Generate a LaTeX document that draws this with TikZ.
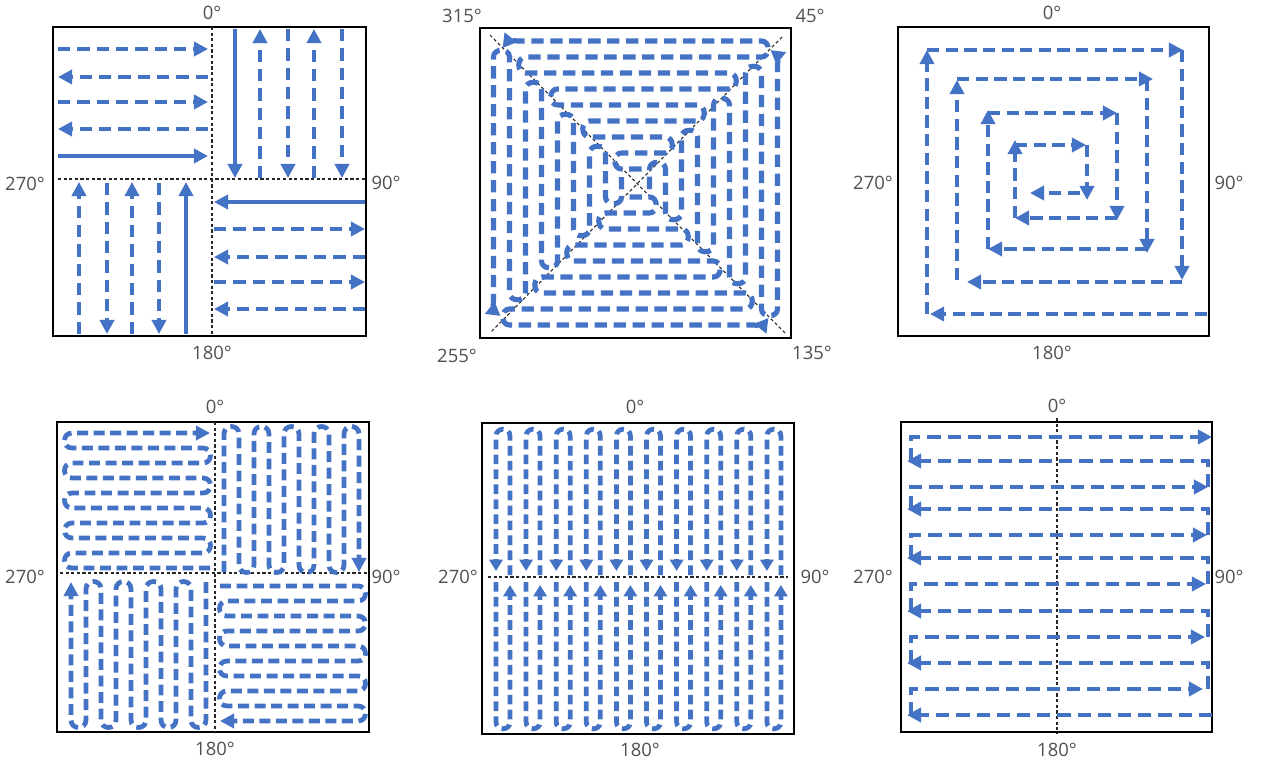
\documentclass[tikz,border=0pt]{standalone}
\usepackage{fontspec}
\setmainfont{Open Sans}
\usetikzlibrary{arrows.meta}
\definecolor{myblue}{RGB}{68,114,196}
\definecolor{labgray}{RGB}{80,80,80}
\begin{document}
\begin{tikzpicture}[x=0.02cm,y=-0.02cm,
  framebox/.style={draw=black, line width=1.2pt},
  guide/.style={draw=black!85, line width=0.6pt, dash pattern=on 1.8pt off 1.4pt},
  bl/.style={draw=myblue, line width=2.7pt, dash pattern=on 7pt off 4pt},
  sol/.style={draw=myblue, line width=2.7pt},
  tip/.style={-{Triangle[length=8pt,width=8pt]}},
  smalltip/.style={-{Triangle[length=6.5pt,width=7.5pt]}},
  lab/.style={text=labgray, font=\fontsize{10.5}{12}\selectfont, inner sep=0pt}]
\useasboundingbox (0,0) rectangle (1267,764);
\fill[white] (0,0) rectangle (1267,764);

% ---------------- Panel 1 ----------------
\draw[framebox] (53,27) rectangle (366,336);
\draw[guide] (212,27) -- (212,336);
\draw[guide] (58,179) -- (366,179);
\draw[bl,tip] (58,49) -- (208,49);
\draw[bl,tip] (208,77) -- (58,77);
\draw[bl,tip] (58,102) -- (208,102);
\draw[bl,tip] (208,129) -- (58,129);
\draw[sol,tip] (58,156) -- (208,156);
\draw[sol,tip] (235,29) -- (235,178);
\draw[bl,tip] (260,178) -- (260,29);
\draw[bl,tip] (288,29) -- (288,178);
\draw[bl,tip] (314,178) -- (314,29);
\draw[bl,tip] (342,29) -- (342,178);
\draw[bl,tip] (79,334) -- (79,182);
\draw[bl,tip] (107,183) -- (107,334);
\draw[bl,tip] (132,334) -- (132,182);
\draw[bl,tip] (159,183) -- (159,334);
\draw[sol,tip] (186,334) -- (186,182);
\draw[sol,tip] (365,202) -- (214,202);
\draw[bl,tip] (214,229) -- (365,229);
\draw[bl,tip] (365,257) -- (214,257);
\draw[bl,tip] (214,282) -- (365,282);
\draw[bl,tip] (365,309) -- (214,309);
\node[lab] (pa0) at (212,13) {0°};
\node[lab] (pa180) at (212,353) {180°};
\node[lab] (pa270) at (25,184) {270°};
\node[lab] (pa90) at (386,183) {90°};

% ---------------- Panel 2 ----------------
\draw[framebox] (480,28) rectangle (791,338);
\draw[guide] (490,35) -- (785,333);
\draw[guide] (782,37) -- (491,332);
\foreach \r in {0,-90,-180,-270}{
\begin{scope}[shift={(635.5,183)}, rotate=\r]
\draw[bl, line width=2.9pt, dash pattern=on 7pt off 3.8pt, tip]
  (6,-14) -- (-14,-14) .. controls (-23,-14) and (-23,-30) .. (-14,-30)
  -- (30,-30) .. controls (39,-30) and (39,-46) .. (30,-46)
  -- (-46,-46) .. controls (-55,-46) and (-55,-62) .. (-46,-62)
  -- (62,-62) .. controls (71,-62) and (71,-78) .. (62,-78)
  -- (-78,-78) .. controls (-87,-78) and (-87,-94) .. (-78,-94)
  -- (94,-94) .. controls (103,-94) and (103,-110) .. (94,-110)
  -- (-110,-110) .. controls (-119,-110) and (-119,-126) .. (-110,-126)
  -- (126,-126) .. controls (135,-126) and (135,-142) .. (126,-142)
  -- (-118,-142) .. controls (-125,-142) and (-129,-146) .. (-131,-151);
\end{scope}}
\node[lab] (pb315) at (462,16) {315°};
\node[lab] (pb45) at (810,16) {45°};
\node[lab] (pb255) at (457,356) {255°};
\node[lab] (pb135) at (812,353) {135°};

% ---------------- Panel 3 ----------------
\draw[framebox] (898,27) rectangle (1209,336);
\begin{scope}[bl/.append style={dash pattern=on 7pt off 3.6pt}]
\draw[bl,tip] (1207,314) -- (930,314);
\draw[bl,tip] (927,314) -- (927,50);
\draw[bl,tip] (927,50) -- (1183,50);
\draw[bl,tip] (1182,50) -- (1182,280);
\draw[bl,tip] (1182,282) -- (967,282);
\draw[bl,tip] (957,280) -- (957,80);
\draw[bl,tip] (957,79) -- (1153,79);
\draw[bl,tip] (1147,79) -- (1147,253);
\draw[bl,tip] (1147,249) -- (988,249);
\draw[bl,tip] (988,249) -- (988,110);
\draw[bl,tip] (988,113) -- (1117,113);
\draw[bl,tip] (1117,113) -- (1117,220);
\draw[bl,tip] (1117,218) -- (1015,218);
\draw[bl,tip] (1015,218) -- (1015,140);
\draw[bl,tip] (1015,145) -- (1086,145);
\draw[bl,tip] (1087,145) -- (1087,200);
\draw[bl,tip] (1080,193) -- (1030,193);
\end{scope}
\node[lab] (pc0) at (1052,13) {0°};
\node[lab] (pc180) at (1052,353) {180°};
\node[lab] (pc270) at (873,183) {270°};
\node[lab] (pc90) at (1229,183) {90°};

% ---------------- Panel 4 ----------------
\draw[framebox] (57,422) rectangle (369,732);
\draw[guide] (215,422) -- (215,732);
\draw[guide] (60,573) -- (369,573);
\foreach \r in {0,-90,-180,-270}{
\begin{scope}[shift={(215,577)}, rotate=\r]
\draw[bl, dash pattern=on 6.2pt off 3.2pt, tip]
  (-5,-9) -- (-143,-9) .. controls (-153,-9) and (-153,-24) .. (-143,-24)
  -- (-12,-24) .. controls (-2,-24) and (-2,-39) .. (-12,-39)
  -- (-143,-39) .. controls (-153,-39) and (-153,-54) .. (-143,-54)
  -- (-12,-54) .. controls (-2,-54) and (-2,-69) .. (-12,-69)
  -- (-143,-69) .. controls (-153,-69) and (-153,-84) .. (-143,-84)
  -- (-12,-84) .. controls (-2,-84) and (-2,-99) .. (-12,-99)
  -- (-143,-99) .. controls (-153,-99) and (-153,-114) .. (-143,-114)
  -- (-12,-114) .. controls (-2,-114) and (-2,-129) .. (-12,-129)
  -- (-143,-129) .. controls (-153,-129) and (-153,-144) .. (-143,-144)
  -- (-5,-144);
\end{scope}}
\node[lab] (pd0) at (215,407) {0°};
\node[lab] (pd180) at (215,749) {180°};
\node[lab] (pd270) at (25,577) {270°};
\node[lab] (pd90) at (386,577) {90°};

% ---------------- Panel 5 ----------------
\draw[framebox] (482,423) rectangle (794,734);
\draw[guide] (488,577) -- (788,577);
\foreach \i in {0,...,9}{
  \pgfmathsetmacro{\xl}{496+30.1*\i}
  \pgfmathsetmacro{\xr}{\xl+14}
  \draw[bl, dash pattern=on 5.5pt off 3pt, smalltip]
    (\xr,575) -- (\xr,436) .. controls (\xr,427) and (\xl,427) .. (\xl,436) -- (\xl,571);
  \draw[bl, dash pattern=on 5.5pt off 3pt, smalltip]
    (\xl,582) -- (\xl,722) .. controls (\xl,731) and (\xr,731) .. (\xr,722) -- (\xr,585);
}
\node[lab] (pe0) at (635,407) {0°};
\node[lab] (pe180) at (640,750) {180°};
\node[lab] (pe270) at (458,577) {270°};
\node[lab] (pe90) at (815,577) {90°};

% ---------------- Panel 6 ----------------
\draw[framebox] (901,422) rectangle (1212,732);
\draw[guide] (1057,418) -- (1057,733);
\begin{scope}[bl/.append style={dash pattern=on 7.5pt off 4pt}]
\draw[bl,tip] (911,461) -- (911,437) -- (1212,437);
\draw[bl,tip] (1208,487) -- (1208,461) -- (907,461);
\draw[bl,tip] (911,509) -- (911,487) -- (1208,487);
\draw[bl,tip] (1208,535) -- (1208,509) -- (907,509);
\draw[bl,tip] (911,558) -- (911,535) -- (1207,535);
\draw[bl,tip] (1208,584) -- (1208,558) -- (907,558);
\draw[bl,tip] (911,611) -- (911,584) -- (1206,584);
\draw[bl,tip] (1208,637) -- (1208,611) -- (907,611);
\draw[bl,tip] (911,663) -- (911,637) -- (1205,637);
\draw[bl,tip] (1208,689) -- (1208,663) -- (907,663);
\draw[bl,tip] (911,715) -- (911,689) -- (1203,689);
\draw[bl,tip] (1212,715) -- (907,715);
\end{scope}
\node[lab] (pf0) at (1057,406) {0°};
\node[lab] (pf180) at (1057,750) {180°};
\node[lab] (pf270) at (873,577) {270°};
\node[lab] (pf90) at (1229,577) {90°};
\end{tikzpicture}
\end{document}
